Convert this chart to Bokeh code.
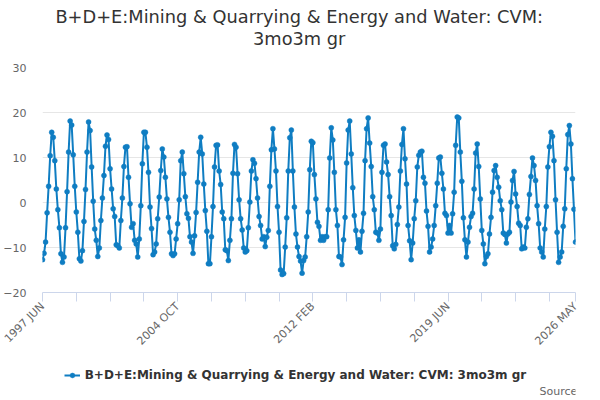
import math
from bokeh.plotting import figure
from bokeh.layouts import column
from bokeh.models import ColumnDataSource, Range1d, Legend, LegendItem, Label
from bokeh.embed import file_html
from bokeh.resources import INLINE

title_line1 = "B+D+E:Mining & Quarrying & Energy and Water: CVM:"
title_line2 = "3mo3m gr"
series_name = "B+D+E:Mining & Quarrying & Energy and Water: CVM: 3mo3m gr"
source_text = "Source:"

start_year, start_month = 1997, 6
month_names = ["JAN", "FEB", "MAR", "APR", "MAY", "JUN",
               "JUL", "AUG", "SEP", "OCT", "NOV", "DEC"]
labelled_ticks = ["1997 JUN", "2004 OCT", "2012 FEB", "2019 JUN", "2026 MAY"]
y_ticks = [-20, -10, 0, 10, 20, 30]

values_1997_2002 = [
    -12.7, -11.3, -8.8, -2.3, 3.6, 10.4, 15.6, 14.5, 9.3, 3.0,
    -1.6, -5.6, -11.4, -13.3, -12.1, -5.6, 2.4, 11.2, 18.1, 17.2,
    10.6, 3.6, -2.1, -6.6, -12.5, -13.0, -10.7, -4.2, 2.9, 11.2,
    17.9, 16.0, 7.9, 0.3, -5.9, -8.4, -12.0, -10.1, -4.0, 1.0,
    6.0, 12.5, 15.0, 14.0, 7.5, 3.0, -1.4, -3.1, -9.4, -9.6,
    -10.1, -4.0, 1.0, 8.0, 12.3, 12.4]
values_2002_2006 = [
    5.6, -0.3, -5.5, -4.7, -8.4, -9.2, -12.1, -8.1, -0.7, 8.6,
    15.6, 15.6, 12.3, 6.7, -1.0, -5.8, -11.6, -11.0, -9.2, -3.6,
    1.2, 7.1, 11.9, 10.1, 5.6, 0.8, -3.3, -6.6, -11.4, -11.8,
    -11.4, -8.1, -4.7, 0.6, 9.3, 11.2, 6.4, 1.3, -2.5, -3.5,
    -7.6, -8.8, -11.3, -7.4, -2.2, 4.5, 11.2, 14.5, 10.8, 4.1,
    -1.8, -6.4, -13.6, -13.6]
values_2006_2011 = [
    -7.6, -0.9, 7.9, 12.7, 12.8, 7.0, 4.0, -2.1, -3.6, -10.5,
    -10.7, -12.9, -8.4, -3.6, 6.5, 12.9, 12.3, 6.4, 0.6, -3.6,
    -6.1, -10.1, -11.0, -10.7, -5.6, 0.1, 7.0, 9.5, 8.7, 5.3,
    1.0, -3.1, -5.1, -8.1, -7.6, -9.8, -7.7, -6.2, 3.6, 11.7,
    16.4, 11.9, 7.0, -0.9, -6.6, -15.0, -16.0, -15.8, -9.9, -3.4,
    7.0, 14.4, 16.1, 7.0, -1.0, -7.0, -9.9, -12.0]
values_2011_2016 = [
    -13.0, -15.7, -12.9, -12.1, -7.6, -2.1, 7.3, 13.6, 13.3, 6.2,
    0.8, -4.4, -5.3, -8.4, -7.6, -8.4, -7.6, -7.6, -1.6, 9.9,
    16.6, 13.9, 6.7, -1.6, -5.1, -12.0, -12.1, -13.8, -8.3, -3.3,
    8.8, 16.1, 18.1, 10.8, 3.3, -2.9, -6.2, -10.1, -8.3, -11.0,
    -6.4, -2.4, 9.3, 16.4, 18.8, 13.2, 8.0, 1.3, -1.6, -6.6,
    -6.8, -8.4, -5.9, 6.7, 12.7]
values_2016_2021 = [
    13.0, 9.0, 6.2, 1.3, -2.9, -9.6, -10.3, -9.3, -4.9, -1.0,
    7.0, 12.9, 16.4, 9.7, 4.1, -5.1, -8.5, -12.7, -9.0, -3.6,
    0.4, 7.9, 10.5, 11.2, 11.4, 5.6, 4.3, -1.9, -5.3, -11.0,
    -9.9, -8.1, -5.1, -0.7, 4.3, 9.9, 10.1, 6.5, 3.0, -2.4,
    -2.9, -6.8, -5.1, -6.8, -2.5, 2.3, 12.7, 19.0, 18.8, 11.2,
    4.7, -3.4, -8.3, -12.1, -8.8, -5.5, -3.1, -2.4, 3.0, 11.0,
    13.0]
values_2021_2026 = [
    8.0, 0.8, -6.2, -9.2, -13.6, -12.0, -11.4, -7.0, -3.3, 2.3,
    7.1, 8.2, 5.6, 3.4, 0.4, -1.6, -6.8, -7.1, -9.0, -7.0,
    -6.6, 0.1, 4.9, 6.9, 1.9, -0.9, -4.6, -5.1, -10.3, -9.9,
    -10.1, -5.5, -3.6, 1.8, 5.8, 9.9, 8.2, 4.9, -0.7, -4.7,
    -10.1, -11.0, -12.1, -5.9, -0.9, 7.9, 12.4, 15.6, 14.7, 9.3,
    0.6, -6.6, -13.3, -12.1, -11.0, -5.3, -1.4, 7.5, 15.1, 17.1,
    13.0, 5.3, -1.5, -8.8]

values = (values_1997_2002 + values_2002_2006 + values_2006_2011 +
          values_2011_2016 + values_2016_2021 + values_2021_2026)
n = len(values)
categories = ["%d %s" % (start_year + (start_month - 1 + k) // 12,
                         month_names[(start_month - 1 + k) % 12]) for k in range(n)]

BLUE = "#0f7dc2"
TXT = "#333333"
W = 584


def blank_panel(h):
    f = figure(width=W, height=h, output_backend="svg", toolbar_location=None,
               title=None, x_axis_type=None, y_axis_type=None,
               x_range=Range1d(0, 1), y_range=Range1d(0, 1),
               min_border=0, min_border_left=0, min_border_right=0,
               min_border_top=0, min_border_bottom=0)
    f.outline_line_color = None
    f.grid.visible = False
    f.background_fill_color = "white"
    f.border_fill_color = "white"
    return f


# ---- header: the two-line title (frame aligned with the chart frame) ----
header = blank_panel(50)
for txt, ym in ((title_line1, 34.5), (title_line2, 11.7)):
    header.add_layout(Label(x=256.7, y=ym, x_units="screen", y_units="screen",
                            text=txt, text_align="center",
                            text_baseline="middle", text_font="DejaVu Sans",
                            text_font_size="17.8px", text_color=TXT))

# ---- main chart ----
src = ColumnDataSource(dict(x=list(range(n)), y=values, cat=categories))
p = figure(width=W, height=306, output_backend="svg", toolbar_location=None,
           title=None, x_range=Range1d(0, n - 1), y_range=Range1d(-20, 30),
           min_border_left=35, min_border_right=9, min_border_top=17,
           min_border_bottom=64)
p.outline_line_color = None
p.background_fill_color = "white"
p.border_fill_color = "white"

line_r = p.line("x", "y", source=src, line_color=BLUE, line_width=2)
scat_r = p.scatter("x", "y", source=src, size=5, fill_color=BLUE, line_color=BLUE,
                   line_width=0.5)

tick_pos = list(range(0, n, 22)) + [n - 1]
p.xaxis.ticker = tick_pos
p.xaxis.major_label_overrides = {
    t: (categories[t] if categories[t] in labelled_ticks else "") for t in tick_pos}
p.xaxis.major_label_orientation = math.pi / 4
p.xaxis.axis_line_color = "#ccd6eb"
p.xaxis.major_tick_line_color = "#ccd6eb"
p.xaxis.major_tick_out = 9
p.xaxis.major_tick_in = 0
p.xaxis.minor_tick_line_color = None
p.xaxis.major_label_standoff = 3
p.xaxis.major_label_text_font = "DejaVu Sans"
p.xaxis.major_label_text_font_size = "11px"
p.xaxis.major_label_text_color = "#666666"

p.yaxis.ticker = y_ticks
p.yaxis.axis_line_color = None
p.yaxis.major_tick_line_color = None
p.yaxis.minor_tick_line_color = None
p.yaxis.major_tick_out = 0
p.yaxis.major_label_standoff = 16
p.yaxis.major_label_text_font = "DejaVu Sans"
p.yaxis.major_label_text_font_size = "11px"
p.yaxis.major_label_text_color = "#666666"

p.xgrid.grid_line_color = None
p.ygrid.grid_line_color = "#e6e6e6"
p.ygrid.grid_line_width = 1

# ---- footer: legend and source (frame aligned with the chart frame) ----
footer = blank_panel(44)
nan = float("nan")
key_line = footer.line(x=[nan], y=[nan], line_color=BLUE, line_width=2)
key_dot = footer.scatter(x=[nan], y=[nan], size=5, fill_color=BLUE,
                         line_color=BLUE, line_width=0.5)
legend = Legend(items=[LegendItem(label=series_name, renderers=[key_line, key_dot])],
                location=(21.7, 18), orientation="horizontal",
                padding=0, margin=0, border_line_color=None,
                background_fill_alpha=0, glyph_width=16, glyph_height=12,
                label_height=12, label_standoff=5,
                label_text_font="DejaVu Sans", label_text_font_size="12px",
                label_text_font_style="bold", label_text_color=TXT)
footer.add_layout(legend)
footer.add_layout(Label(x=538.5, y=9.5, x_units="screen", y_units="screen",
                        text=source_text, text_align="right",
                        text_baseline="middle", text_font="DejaVu Sans",
                        text_font_size="11px", text_color="#666666"))

layout = column(header, p, footer, spacing=0)
open("out.html", "w").write(file_html(layout, INLINE))
